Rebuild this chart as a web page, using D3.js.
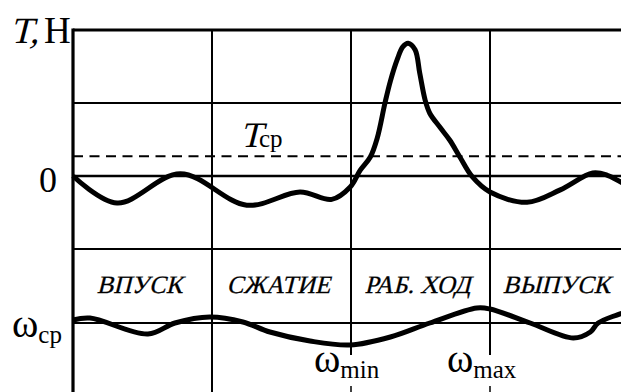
<!DOCTYPE html>
<html>
<head>
<meta charset="utf-8">
<script src="https://cdn.jsdelivr.net/npm/d3@7"></script>
<style>
  body { margin: 0; background: #fff; }
  svg { display: block; }
</style>
</head>
<body>
<div id="chart"></div>
<script>
// crank angle, degrees -> tangential force T (grid units)
var tAngle = [0, 57, 139, 225, 294, 335, 359, 372, 385, 394, 404, 411, 420, 427, 434, 443, 449, 456, 462, 475, 488, 501, 517, 540, 588, 631, 673, 692, 712];
var tValue = [0, -0.37, 0.03, -0.40, -0.22, -0.32, -0.15, 0.08, 0.26, 0.52, 1.0, 1.3, 1.6, 1.77, 1.82, 1.73, 1.41, 1.04, 0.86, 0.67, 0.49, 0.26, -0.01, -0.22, -0.36, -0.19, 0.04, 0.01, -0.1];
// crank angle -> angular speed deviation from ω_cp
var wAngle = [0, 22, 97, 132, 177, 220, 255, 307, 359, 411, 462, 523, 540, 592, 648, 670, 680, 712];
var wValue = [0.15, 0.25, -0.55, 0, 0.3, 0.05, -0.45, -0.9, -1.1, -0.7, 0, 0.75, 0.7, 0, -0.75, -0.45, 0, 0.5];
var tMean = 0.27;
var strokes = ["ВПУСК", "СЖАТИЕ", "РАБ. ХОД", "ВЫПУСК"];
var strokeEdges = [0, 180, 360, 540, 720];
var tGrid = [2, 1, 0, -1];

var font = "'Liberation Serif', 'Times New Roman', serif";
var w = 621, h = 392;
var svg = d3.select("#chart").append("svg").attr("width", w).attr("height", h)
  .attr("font-family", font);

var x = d3.scaleLinear().domain([0, 720]).range([73, 629]);
var yT = d3.scaleLinear().domain([0, 1]).range([176, 103]);
var yW = d3.scaleLinear().domain([0, 1]).range([323, 303]);

// slanted serif text (italic face is not available, so skew the regular one)
function slanted(px, py, size, str, anchor) {
  return svg.append("text")
    .attr("transform", "translate(" + px + "," + py + ") skewX(-14)")
    .attr("font-size", size)
    .attr("text-anchor", anchor || "start")
    .text(str);
}

// horizontal grid of the T panel
svg.selectAll("line.hgrid").data(tGrid).enter().append("line")
  .attr("x1", x(0)).attr("x2", w)
  .attr("y1", function(d){ return yT(d); }).attr("y2", function(d){ return yT(d); })
  .attr("stroke", "#000")
  .attr("stroke-width", function(d){ return d == 2 ? 3.2 : (d == 0 ? 2.6 : 2); });

// ω_cp line
svg.append("line").attr("x1", x(0)).attr("x2", w).attr("y1", yW(0)).attr("y2", yW(0))
  .attr("stroke", "#000").attr("stroke-width", 1.8);

// T_cp dashed
svg.append("line").attr("x1", x(0)).attr("x2", w).attr("y1", yT(tMean)).attr("y2", yT(tMean))
  .attr("stroke", "#000").attr("stroke-width", 2).attr("stroke-dasharray", "10,6.5");

// vertical stroke borders
strokeEdges.slice(1, 4).forEach(function(a, i){
  if (i == 0) {
    svg.append("line").attr("x1", x(a)).attr("x2", x(a)).attr("y1", yT(2)).attr("y2", h)
      .attr("stroke", "#000").attr("stroke-width", 2);
  } else {
    svg.append("line").attr("x1", x(a)).attr("x2", x(a)).attr("y1", yT(2)).attr("y2", 355)
      .attr("stroke", "#000").attr("stroke-width", 2);
    svg.append("line").attr("x1", x(a)).attr("x2", x(a)).attr("y1", 386).attr("y2", h)
      .attr("stroke", "#000").attr("stroke-width", 1.5);
  }
});

// left axis
svg.append("line").attr("x1", x(0)).attr("x2", x(0)).attr("y1", yT(2) - 1.5).attr("y2", h)
  .attr("stroke", "#000").attr("stroke-width", 3.2);

// curves
var tLine = d3.line().x(function(d){ return x(d[0]); }).y(function(d){ return yT(d[1]); }).curve(d3.curveCatmullRom.alpha(0.5));
var wLine = d3.line().x(function(d){ return x(d[0]); }).y(function(d){ return yW(d[1]); }).curve(d3.curveCatmullRom.alpha(0.5));

svg.append("path").datum(d3.zip(tAngle, tValue)).attr("d", tLine)
  .attr("fill", "none").attr("stroke", "#000").attr("stroke-width", 5).attr("stroke-linejoin", "round");
svg.append("path").datum(d3.zip(wAngle, wValue)).attr("d", wLine)
  .attr("fill", "none").attr("stroke", "#000").attr("stroke-width", 5).attr("stroke-linejoin", "round");

// stroke names
strokes.forEach(function(s, i){
  slanted((x(strokeEdges[i]) + x(strokeEdges[i + 1])) / 2 - 3, 293, 25, s, "middle")
    .attr("stroke", "#000").attr("stroke-width", 0.3);
});

// axis title T, H
slanted(10, 43, 37, "T,");
svg.append("text").attr("x", 44).attr("y", 43).attr("font-size", 37).text("Н");

svg.append("text").attr("x", 39).attr("y", 192).attr("font-size", 36).text("0");

slanted(240, 147, 36, "T");
svg.append("text").attr("x", 259).attr("y", 147).attr("font-size", 25).text("ср");

var wc = svg.append("text").attr("x", 12).attr("y", 337).attr("font-size", 40);
wc.append("tspan").text("ω");
wc.append("tspan").attr("font-size", 25).attr("dy", 6).text("ср");

var wmin = svg.append("text").attr("x", 314).attr("y", 372).attr("font-size", 40);
wmin.append("tspan").text("ω");
wmin.append("tspan").attr("font-size", 25).attr("dy", 6).text("min");

var wmax = svg.append("text").attr("x", 447).attr("y", 372).attr("font-size", 40);
wmax.append("tspan").text("ω");
wmax.append("tspan").attr("font-size", 25).attr("dy", 6).text("max");
</script>
</body>
</html>
